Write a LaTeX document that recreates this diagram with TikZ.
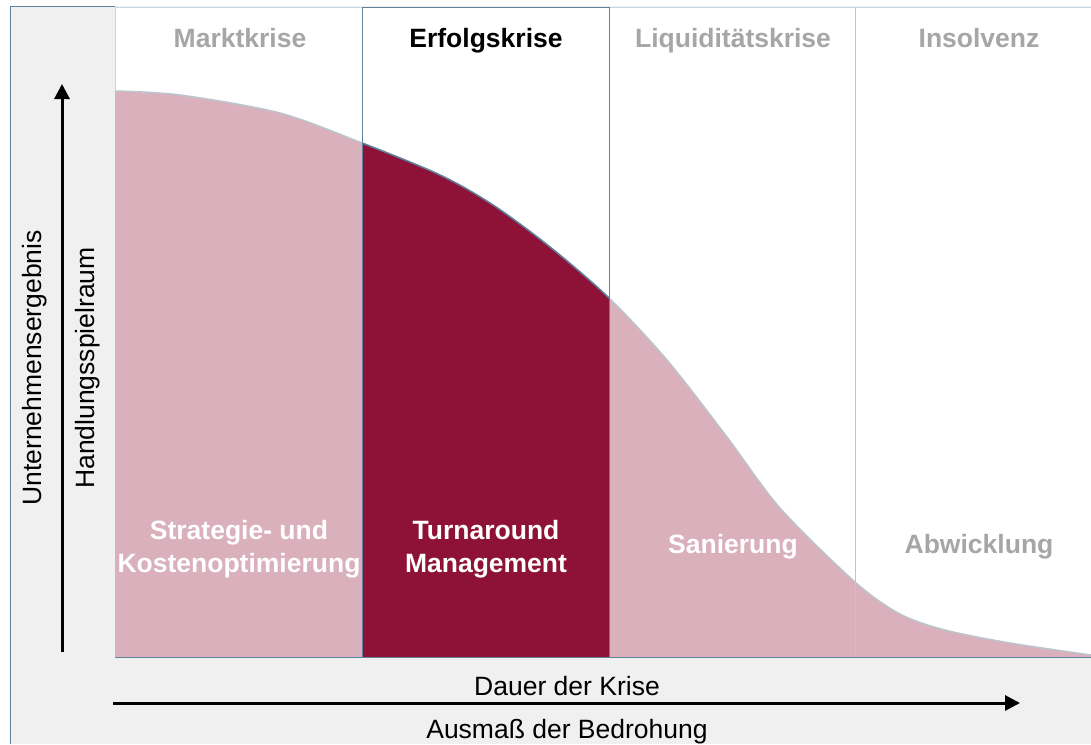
\documentclass[tikz,border=0pt]{standalone}
\usepackage{fontspec}
\setmainfont{Liberation Sans}
\usepackage{xcolor}
\usepackage{tikz}
\usetikzlibrary{arrows.meta, positioning}

\definecolor{bggray}{HTML}{F0F0F0}
\definecolor{frameblue}{HTML}{5F819C}
\definecolor{lightframe}{HTML}{C9D6E0}
\definecolor{critpink}{HTML}{D9B0BB}
\definecolor{critred}{HTML}{8E1238}
\definecolor{phasegray}{HTML}{A6A6A6}

\newcommand{\crisiscurve}{(115,91) (180,95) (280,113) (362,143) (440,175) (493,205) (550,247) (609,298) (667,360) (727,437) (780,508) (855,582) (900,614) (945,630) (1010,643) (1091,655)}

\begin{document}
\begin{tikzpicture}[
    x=1pt, y=-1pt,
    phase/.style={
        font=\fontsize{26.5}{30}\selectfont\bfseries,
        text=phasegray,
        anchor=base,
        align=center
    },
    measure/.style={
        font=\fontsize{26.5}{33}\selectfont\bfseries,
        text=white,
        align=center
    },
    axislabel/.style={
        font=\fontsize{26.5}{30}\selectfont
    },
    line/.style={
        draw,
        -{Triangle[length=15pt, width=15pt]},
        line width=3pt
    }
]
\useasboundingbox (0,0) rectangle (1091,744);

% Background
\fill[bggray] (10,6) rectangle (1091,744);
\draw[frameblue, thick] (10,744) -- (10,6) -- (115,6);
\fill[white] (115,7) rectangle (1091,657);
\draw[lightframe, thick] (115,7) -- (1091,7);
\draw[lightframe, thick] (115,7) -- (115,657);

% Curve
\fill[critpink] (115,657) -- plot[smooth, tension=0.5] coordinates {\crisiscurve} -- (1091,657) -- cycle;
\draw[lightframe!80!gray, line width=1.5pt] plot[smooth, tension=0.5] coordinates {\crisiscurve};
\begin{scope}
\clip (362,0) rectangle (609,700);
\fill[critred] (115,657) -- plot[smooth, tension=0.5] coordinates {\crisiscurve} -- (1091,657) -- cycle;
\draw[frameblue, line width=1.5pt] plot[smooth, tension=0.5] coordinates {\crisiscurve};
\end{scope}

% Phases
\draw[lightframe!80!gray, thick] (855,7) -- (855,657);
\draw[frameblue, thick] (362,7) rectangle (609,657);
\draw[frameblue, thick] (115,657) -- (1091,657);

% Nodes
\node[phase] (markt) at (240,47) {Marktkrise};
\node[phase, text=black] (erfolg) at (486,47) {Erfolgskrise};
\node[phase] (liquid) at (733,47) {Liquiditätskrise};
\node[phase] (insolv) at (979,47) {Insolvenz};

\node[measure] (strat) at (239,549) {Strategie- und\\Kostenoptimierung};
\node[measure] (turn) at (486,549) {Turnaround\\Management};
\node[measure] (sanier) at (733,547) {Sanierung};
\node[measure, text=phasegray] (abwick) at (979,547) {Abwicklung};

\node[axislabel, rotate=90] (ergebnis) at (35,368) {Unternehmensergebnis};
\node[axislabel, rotate=90] (spielraum) at (88,368) {Handlungsspielraum};
\node[axislabel] (dauer) at (567,686) {Dauer der Krise};
\node[axislabel] (ausmass) at (567,732) {Ausmaß der Bedrohung};

\coordinate (ylow) at (62,652);
\coordinate (yhigh) at (62,84);
\coordinate (xlow) at (113,703);
\coordinate (xhigh) at (1020,703);

% Edges
\path[line] (ylow) -- (yhigh);
\path[line] (xlow) -- (xhigh);

\end{tikzpicture}
\end{document}
